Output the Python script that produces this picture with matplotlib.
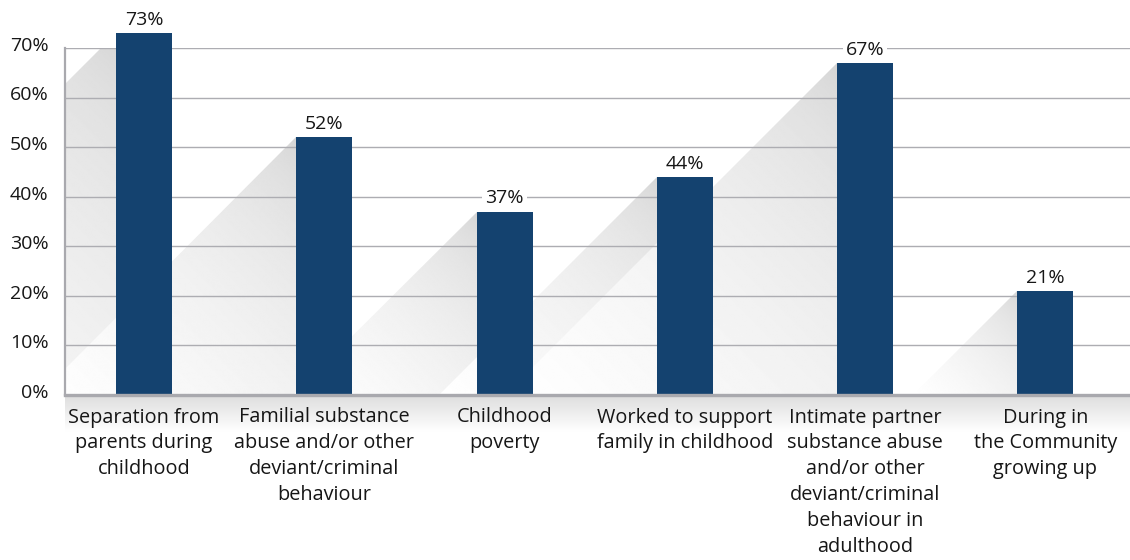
import numpy as np
import matplotlib
matplotlib.use("Agg")
import matplotlib.pyplot as plt
import matplotlib.transforms as mtransforms
from matplotlib.patches import Polygon
from matplotlib.ticker import FuncFormatter

# Data
categories = [
    "Separation from\nparents during\nchildhood",
    "Familial substance\nabuse and/or other\ndeviant/criminal\nbehaviour",
    "Childhood\npoverty",
    "Worked to support\nfamily in childhood",
    "Intimate partner\nsubstance abuse\nand/or other\ndeviant/criminal\nbehaviour in\nadulthood",
    "During in\nthe Community\ngrowing up",
]
values = [73, 52, 37, 44, 67, 21]
y_ticks = [0, 10, 20, 30, 40, 50, 60, 70]

plt.rcParams['font.family'] = ['Open Sans', 'DejaVu Sans']

BAR_COLOR = "#14426F"
TEXT_COLOR = "#161616"
AXIS_GREY = "#A9A9AE"
FS = 14

W, H = 1130, 560
fig = plt.figure(figsize=(W / 100, H / 100), dpi=100)

# axes box in pixels
left_px, right_px, bottom_px, top_px = 65, 1130, 395, 48
ax = fig.add_axes([left_px / W, (H - bottom_px) / H,
                   (right_px - left_px) / W, (bottom_px - top_px) / H], zorder=1)

xl, xr = -0.438, 5.469
ymax = 70
bar_w = 0.31
ppx = (right_px - left_px) / (xr - xl)   # pixels per x unit
ppy = (bottom_px - top_px) / ymax        # pixels per y unit

x = np.arange(len(values))
ax.bar(x, values, width=bar_w, color=BAR_COLOR, zorder=2, clip_on=False)

# diagonal drop shadows behind each bar
for i, v in enumerate(values):
    x0 = i - bar_w / 2
    dx = v * ppy / ppx
    xs = np.linspace(x0 - dx, x0, 300)
    ys = np.linspace(0, v, 300)
    gx, gy = np.meshgrid(xs, ys)
    px = (gx - x0) * ppx
    py = (gy - v) * ppy
    t = (-px - py) / (2 * v * ppy)
    shade = 0.82 + 0.18 * np.clip(t, 0, 1) ** 0.5
    im = ax.imshow(shade, extent=[x0 - dx, x0, 0, v], origin="lower",
                   cmap="gray", vmin=0, vmax=1, aspect="auto",
                   interpolation="bilinear", zorder=0.3)
    if x0 - dx < xl:
        y_cut = v - (x0 - xl) * ppx / ppy
        pts = [(x0, v), (x0, 0), (xl, 0), (xl, y_cut)]
    else:
        pts = [(x0, v), (x0, 0), (x0 - dx, 0)]
    tri = Polygon(pts, closed=True, transform=ax.transData,
                  fc="none", ec="none")
    im.set_clip_path(tri)
    im.set_clip_box(None)

    ax.annotate(f"{v}%", (i, v), xytext=(0, 3), textcoords="offset points",
                ha="center", va="bottom", fontsize=FS, color=TEXT_COLOR,
                annotation_clip=False, zorder=4,
                bbox=dict(boxstyle="square,pad=0.15", fc="white", ec="none"))

ax.set_xlim(xl, xr)
ax.set_ylim(0, ymax)

ax.set_yticks(y_ticks)
ax.yaxis.set_major_formatter(FuncFormatter(lambda v, _: f"{v:.0f}%"))
ax.set_xticks(x)
ax.set_xticklabels(categories, fontsize=14.3, color=TEXT_COLOR, linespacing=1.39)
ax.tick_params(axis="y", length=0, pad=12, labelsize=FS, labelcolor=TEXT_COLOR)
ax.tick_params(axis="x", length=0, pad=9)

# y labels sit slightly above their gridlines
lift = mtransforms.ScaledTranslation(0, 3 / 72, fig.dpi_scale_trans)
for lbl in ax.get_yticklabels():
    lbl.set_transform(lbl.get_transform() + lift)

ax.yaxis.grid(True, color="#ADADB2", lw=1.0)
ax.set_axisbelow(True)

for side in ("top", "right"):
    ax.spines[side].set_visible(False)
ax.spines["left"].set_color(AXIS_GREY)
ax.spines["left"].set_linewidth(1.6)
ax.spines["bottom"].set_color(AXIS_GREY)
ax.spines["bottom"].set_linewidth(2.4)
ax.spines["bottom"].set_zorder(3)

# soft grey band under the baseline
band = fig.add_axes([left_px / W, (H - 432) / H, (right_px - left_px) / W, 36 / H],
                    zorder=0)
grad = np.linspace(0.87, 1.0, 100)
band.imshow(grad[:, None], cmap="gray", vmin=0, vmax=1, aspect="auto",
            extent=[0, 1, 0, 1], interpolation="bilinear")
band.axis("off")

fig.savefig("out.png", dpi=100)
